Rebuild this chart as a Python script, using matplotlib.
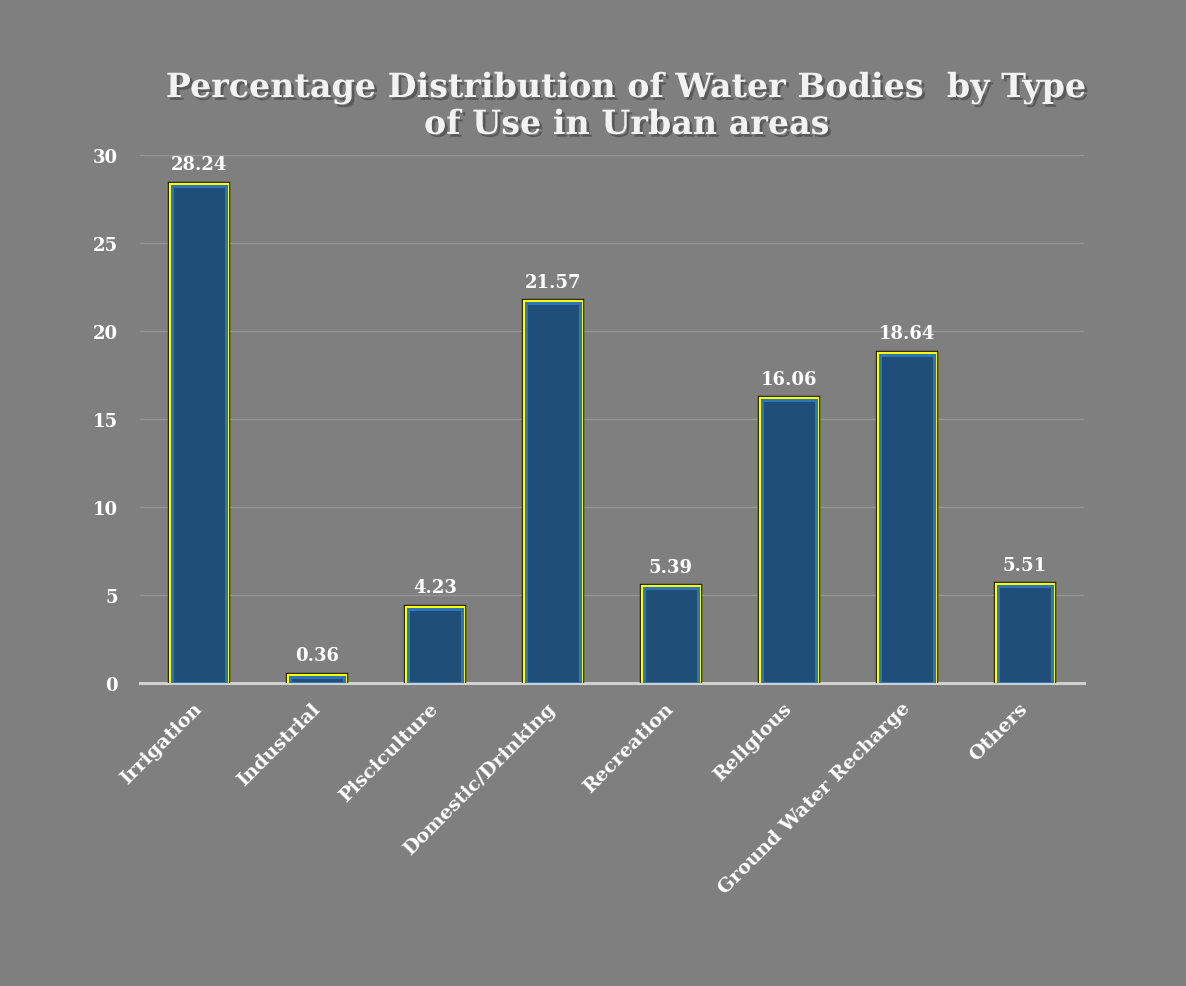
import matplotlib
matplotlib.use("Agg")
import matplotlib.pyplot as plt
import matplotlib.patheffects as pe

categories = ["Irrigation", "Industrial", "Pisciculture", "Domestic/Drinking",
              "Recreation", "Religious", "Ground Water Recharge", "Others"]
values = [28.24, 0.36, 4.23, 21.57, 5.39, 16.06, 18.64, 5.51]
yticks = [0, 5, 10, 15, 20, 25, 30]

BG = "#7F7F7F"
FONT = ["DejaVu Serif"]

fig = plt.figure(figsize=(11.86, 9.87), dpi=100, facecolor=BG)
ax = fig.add_axes([140/1186, 1-684/987, 944/1186, (684-156)/987])
ax.set_facecolor(BG)

x = list(range(len(categories)))
bars = ax.bar(x, values, width=0.46, color="#1F4E79", edgecolor="#2E75B6",
              linewidth=2.2, zorder=3)
for b in bars:
    b.set_path_effects([pe.Stroke(linewidth=6.0, foreground="black"),
                        pe.Stroke(linewidth=4.6, foreground="#FFFF00"),
                        pe.Normal()])

for xi, v in zip(x, values):
    ax.annotate(f"{v:.2f}", (xi, v), xytext=(0, 9), textcoords="offset points",
                ha="center", va="bottom", color="white", fontsize=13,
                fontweight="bold", family=FONT)

ax.set_xlim(-0.5, len(categories) - 0.5)
ax.set_ylim(0, 30)
ax.set_yticks(yticks)
ax.set_yticklabels([str(t) for t in yticks], color="white", fontsize=13,
                   fontweight="bold", family=FONT)
ax.set_xticks(x)
ax.set_xticklabels(categories, rotation=45, ha="right", va="center",
                   rotation_mode="anchor",
                   color="white", fontsize=14, fontweight="bold", family=FONT)
ax.tick_params(axis="both", length=0)
ax.tick_params(axis="y", pad=16)
ax.tick_params(axis="x", pad=16)

ax.grid(axis="y", color="#959595", linewidth=1.0, zorder=0)
for s in ["top", "right", "left"]:
    ax.spines[s].set_visible(False)
ax.spines["bottom"].set_color("#D0D0D0")
ax.spines["bottom"].set_linewidth(2.2)
ax.spines["bottom"].set_zorder(2)

title = ("Percentage Distribution of Water Bodies  by Type\nof Use in Urban areas")
fig.text(627/1186, 1-107/987, title, ha="center", va="center", color="#F2F2F2",
         fontsize=24, fontweight="bold", family=FONT, linespacing=1.15,
         path_effects=[pe.withSimplePatchShadow(offset=(2, -2), shadow_rgbFace="#404040", alpha=0.6)])

fig.savefig("out.png", dpi=100, facecolor=BG)
